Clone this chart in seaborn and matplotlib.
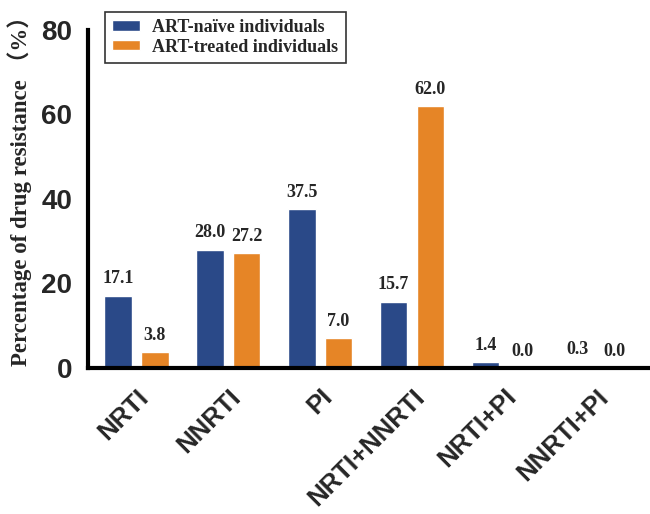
import matplotlib
matplotlib.use("Agg")
import matplotlib.pyplot as plt
import seaborn as sns
import pandas as pd

# values
categories = ['NRTI', 'NNRTI', 'PI', 'NRTI+NNRTI', 'NRTI+PI', 'NNRTI+PI']
naive = [17.1, 28.0, 37.5, 15.7, 1.4, 0.3]
treated = [3.8, 27.2, 7.0, 62.0, 0.0, 0.0]
groups = ['ART-naïve individuals', 'ART-treated individuals']
colors = ['#2A4988', '#E68526']

df = pd.DataFrame({
    'category': categories * 2,
    'value': naive + treated,
    'group': [groups[0]] * len(categories) + [groups[1]] * len(categories),
})

sns.set_style('white')
serif = ['Liberation Serif', 'Noto Sans CJK SC']
sans = ['Liberation Sans', 'DejaVu Sans']

fig = plt.figure(figsize=(6.5, 5.14), dpi=100)
ax = fig.add_axes([0.135, 0.284, 0.865, 0.658])

sns.barplot(data=df, x='category', y='value', hue='group', palette=colors,
            width=0.8, gap=0.25, ax=ax, saturation=1, legend=True)

# value labels above bars
for cont in ax.containers:
    ax.bar_label(cont, fmt='%.1f', padding=6, fontsize=13, fontweight='bold',
                 family=serif)

ax.set_ylim(0, 80)
ax.set_xlim(-0.53, 5.59)
ax.set_yticks([0, 20, 40, 60, 80])
ax.set_xlabel('')
ax.set_ylabel('Percentage of drug resistance （%）', fontsize=16.5,
              fontweight='bold', family=serif)
ax.yaxis.set_label_coords(-0.1, 0.54)

for side in ['top', 'right']:
    ax.spines[side].set_visible(False)
for side in ['left', 'bottom']:
    ax.spines[side].set_linewidth(3)
    ax.spines[side].set_color('black')

ax.tick_params(axis='both', length=10, width=3, color='black', direction='out')
ax.tick_params(axis='y', pad=1)
ax.tick_params(axis='x', pad=2)
for lab in ax.get_yticklabels():
    lab.set_fontsize(20)
    lab.set_fontweight('bold')
    lab.set_family(sans)
ax.set_xticks(range(len(categories)))
ax.set_xticklabels(categories, rotation=45, ha='right', rotation_mode='anchor',
                   fontsize=18.5, fontweight='bold', family=sans)

leg = ax.legend(loc='upper left', bbox_to_anchor=(0.015, 1.08), frameon=True,
                fancybox=False, edgecolor='black',
                prop={'family': serif, 'weight': 'bold', 'size': 13},
                handlelength=1.5, handleheight=0.5, borderpad=0.4,
                labelspacing=0.15, handletextpad=0.7)
leg.get_frame().set_linewidth(1.2)

plt.savefig('out.png', dpi=100)
